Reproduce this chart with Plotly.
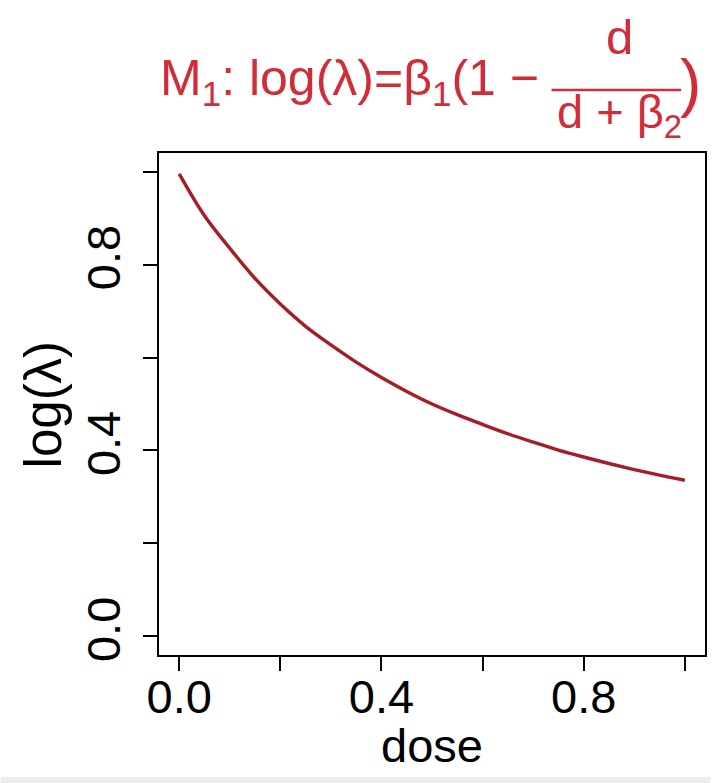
import plotly.graph_objects as go

# Data
dose = [0.0, 0.05, 0.1, 0.15, 0.2, 0.25, 0.3, 0.35, 0.4, 0.45, 0.5,
        0.55, 0.6, 0.65, 0.7, 0.75, 0.8, 0.85, 0.9, 0.95, 1.0]
log_lambda = [0.995, 0.905, 0.835, 0.77, 0.715, 0.667, 0.627, 0.59, 0.557, 0.527, 0.5,
              0.477, 0.456, 0.436, 0.418, 0.401, 0.386, 0.372, 0.359, 0.347, 0.336]

x_tickvals = [0.0, 0.4, 0.8]
x_ticktext = ["0.0", "0.4", "0.8"]
y_tickvals = [0.0, 0.4, 0.8]
y_ticktext = ["0.0", "0.4", "0.8"]
tick_step = 0.2

W, H = 712, 783
L, R, T, B = 159, 5, 153, 128
PW, PH = W - L - R, H - T - B

def px(x):
    return (x - L) / PW

def py(y):
    return (H - B - y) / PH

FONT = "Liberation Sans, Arial, sans-serif"
CURVE = "#a51d27"
TITLE = "#d22c38"
FS = 47

fig = go.Figure()
fig.add_trace(go.Scatter(x=dose, y=log_lambda, mode="lines",
                         line=dict(color=CURVE, width=3.4, shape="spline"),
                         showlegend=False, hoverinfo="skip"))

axis_common = dict(showgrid=False, zeroline=False, showline=True, linecolor="black",
                   linewidth=2, mirror=True, ticks="outside", ticklen=14, tickwidth=2,
                   tickcolor="black", tickfont=dict(family=FONT, size=FS, color="black"),
                   minor=dict(ticks="outside", tick0=0, dtick=tick_step, ticklen=14,
                              tickwidth=2, tickcolor="black", showgrid=False))

fig.update_xaxes(range=[-0.04, 1.04], tickvals=x_tickvals, ticktext=x_ticktext,
                 ticklabelstandoff=-14, **axis_common)
fig.update_yaxes(range=[-0.04, 1.04], tickvals=y_tickvals, ticktext=y_ticktext,
                 tickangle=-90, ticklabelstandoff=4, **axis_common)

ann = []
# axis titles
ann.append(dict(text="dose", x=0.5, y=py(745), xref="paper", yref="paper",
                xanchor="center", yanchor="middle", showarrow=False,
                font=dict(family=FONT, size=FS, color="black")))
ann.append(dict(text="log(λ)", x=px(43), y=0.5, xref="paper", yref="paper",
                xanchor="center", yanchor="middle", textangle=-90, showarrow=False,
                font=dict(family=FONT, size=51, color="black")))
# title pieces
ann.append(dict(text="M<sub>1</sub>: log(λ)=β<sub>1</sub>(1 −", x=px(158), y=py(82),
                xref="paper", yref="paper", xanchor="left", yanchor="middle",
                showarrow=False, font=dict(family=FONT, size=50, color=TITLE)))
ann.append(dict(text="d", x=px(621), y=py(37), xref="paper", yref="paper",
                xanchor="center", yanchor="middle", showarrow=False,
                font=dict(family=FONT, size=49, color=TITLE)))
ann.append(dict(text="d + β<sub>2</sub>", x=px(621), y=py(115), xref="paper", yref="paper",
                xanchor="center", yanchor="middle", showarrow=False,
                font=dict(family=FONT, size=47, color=TITLE)))
ann.append(dict(text=")", x=px(692), y=py(83), xref="paper", yref="paper",
                xanchor="center", yanchor="middle", showarrow=False,
                font=dict(family=FONT, size=64, color=TITLE)))

shapes = [
    dict(type="line", xref="paper", yref="paper", x0=px(553), x1=px(683),
         y0=py(90), y1=py(90), line=dict(color=TITLE, width=2.5)),
    dict(type="rect", xref="paper", yref="paper", x0=px(0), x1=px(712),
         y0=py(783), y1=py(777), fillcolor="#ececec", line=dict(width=0), layer="below"),
]

fig.update_layout(width=W, height=H, margin=dict(l=L, r=R, t=T, b=B, pad=0),
                  paper_bgcolor="white", plot_bgcolor="white",
                  annotations=ann, shapes=shapes)

fig.write_html("out.html", config={"displayModeBar": False},
               post_script="document.body.style.margin='0';document.body.style.overflow='hidden';")
